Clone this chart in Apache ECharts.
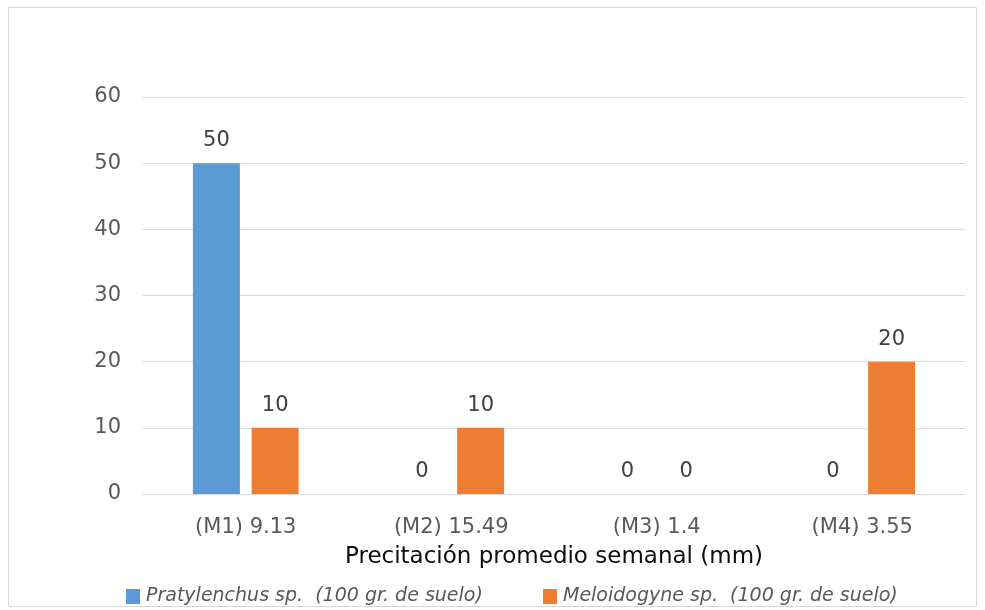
<!DOCTYPE html>
<html><head><meta charset="utf-8">
<script src="https://cdn.jsdelivr.net/npm/echarts@6/dist/echarts.min.js"></script>
<style>html,body{margin:0;padding:0;background:#fff}#c{width:985px;height:610px}</style>
</head><body><div id="c"></div>
<script>
const categories = ['(M1) 9.13', '(M2) 15.49', '(M3) 1.4', '(M4) 3.55'];
const pratylenchus = [50, 0, 0, 0];
const meloidogyne = [10, 10, 0, 20];
const seriesNames = ['Pratylenchus sp.  (100 gr. de suelo)', 'Meloidogyne sp.  (100 gr. de suelo)'];
const xTitle = 'Precitación promedio semanal (mm)';

const font = '"DejaVu Sans", sans-serif';
const chart = echarts.init(document.getElementById('c'), null, {renderer: 'canvas'});
const legendCommon = {
  orient: 'horizontal', top: 582, itemWidth: 14, itemHeight: 15, itemGap: 6,
  icon: 'rect',
  textStyle: {fontFamily: font, fontSize: 19, fontStyle: 'italic', color: '#595959', padding: [0,0,0,1]},
  selectedMode: false
};
chart.setOption({
  animation: false,
  textStyle: {fontFamily: font},
  graphic: [{type: 'rect', shape: {x: 8.5, y: 7.5, width: 968, height: 599}, style: {fill: 'none', stroke: '#d9d9d9', lineWidth: 1}, silent: true}],
  legend: [
    Object.assign({}, legendCommon, {left: 121, data: [seriesNames[0]]}),
    Object.assign({}, legendCommon, {left: 538, data: [seriesNames[1]]})
  ],
  grid: {left: 143, right: 20, top: 97, bottom: 116, containLabel: false},
  xAxis: {
    type: 'category', data: categories,
    name: xTitle, nameLocation: 'middle', nameGap: 52,
    nameTextStyle: {fontFamily: font, fontSize: 23, color: '#0d0d0d'},
    axisLine: {lineStyle: {color: '#d9d9d9', width: 1}},
    axisTick: {show: false},
    axisLabel: {fontFamily: font, fontSize: 21, color: '#595959', margin: 23}
  },
  yAxis: {
    type: 'value', min: 0, max: 60, interval: 10,
    axisLine: {show: false}, axisTick: {show: false},
    splitLine: {lineStyle: {color: '#d9d9d9', width: 1}},
    axisLabel: {fontFamily: font, fontSize: 21, color: '#595959', margin: 22, padding: [5, 0, 0, 0]}
  },
  series: [
    {name: seriesNames[0], type: 'bar', data: pratylenchus, barWidth: 47, barGap: '25%',
     itemStyle: {color: '#5B9BD5'},
     label: {show: true, position: 'top', distance: 12, fontFamily: font, fontSize: 21, color: '#404040'}},
    {name: seriesNames[1], type: 'bar', data: meloidogyne, barWidth: 47, barGap: '25%',
     itemStyle: {color: '#ED7D31'},
     label: {show: true, position: 'top', distance: 12, fontFamily: font, fontSize: 21, color: '#404040'}}
  ]
});
</script></body></html>
